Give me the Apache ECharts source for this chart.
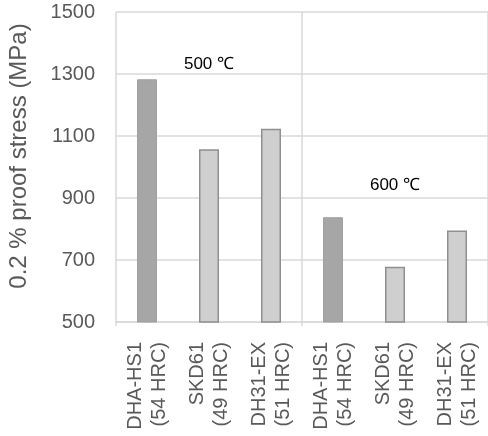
<!DOCTYPE html>
<html><head><meta charset="utf-8">
<script src="https://cdn.jsdelivr.net/npm/echarts@6/dist/echarts.min.js"></script>
<style>html,body{margin:0;padding:0;background:#fff}#c{width:488px;height:436px}</style>
</head><body><div id="c"></div>
<script>
const categories = ['DHA-HS1\n(54 HRC)','SKD61\n(49 HRC)','DH31-EX\n(51 HRC)','DHA-HS1\n(54 HRC)','SKD61\n(49 HRC)','DH31-EX\n(51 HRC)'];
const values = [1283, 1057, 1123, 838, 678, 795];
const highlight = [true, false, false, true, false, false];
const yTicks = [500, 700, 900, 1100, 1300, 1500];
const notes = [{text: '500 \u2103', cat: 1, value: 1330}, {text: '600 \u2103', cat: 4, value: 940}];
const yTitle = '0.2 % proof stress (MPa)';

const FONT = "'Liberation Sans', Arial, sans-serif";
const chart = echarts.init(document.getElementById('c'), null, {renderer: 'canvas'});
chart.setOption({
  animation: false,
  grid: {left: 116, right: 0, top: 12, bottom: 114, containLabel: false},
  xAxis: {
    type: 'category', data: categories,
    axisLine: {show: true, lineStyle: {color: '#d9d9d9', width: 1.5}},
    axisTick: {show: true, length: 4, interval: (i) => i === 0 || i === 3, lineStyle: {color: '#d9d9d9', width: 1.5}},
    splitLine: {show: true, interval: (i) => i === 0 || i === 3, lineStyle: {color: '#d9d9d9', width: 1.5}},
    axisLabel: {rotate: 90, interval: 0, margin: 20, color: '#595959', fontSize: 20, lineHeight: 24, fontFamily: FONT}
  },
  yAxis: {
    type: 'value', min: yTicks[0], max: yTicks[yTicks.length - 1], interval: 200,
    axisLine: {show: false}, axisTick: {show: false},
    splitLine: {lineStyle: {color: '#d9d9d9', width: 1.5}},
    axisLabel: {margin: 21, color: '#595959', fontSize: 20, fontFamily: FONT, formatter: (v) => String(v)}
  },
  series: [{
    type: 'bar', barWidth: 20,
    data: values.map((v, i) => ({
      value: v,
      itemStyle: highlight[i] ? {color: '#a6a6a6', borderColor: '#a0a0a0', borderWidth: 1}
                              : {color: '#cfcfcf', borderColor: '#8f8f8f', borderWidth: 1.5}
    })),
    markPoint: {
      symbol: 'circle', symbolSize: 0,
      label: {show: true, position: 'inside', color: '#000', fontSize: 17,
              fontFamily: "'Liberation Sans Narrow', 'Arial Narrow', " + FONT,
              formatter: (p) => p.name},
      data: notes.map(n => ({name: n.text, coord: [n.cat, n.value]}))
    }
  }],
  graphic: [{
    type: 'text', x: 19, y: 156, rotation: Math.PI / 2,
    style: {text: yTitle, fill: '#595959', fontSize: 24, fontFamily: FONT, align: 'center', verticalAlign: 'middle'}
  }]
});
</script></body></html>
